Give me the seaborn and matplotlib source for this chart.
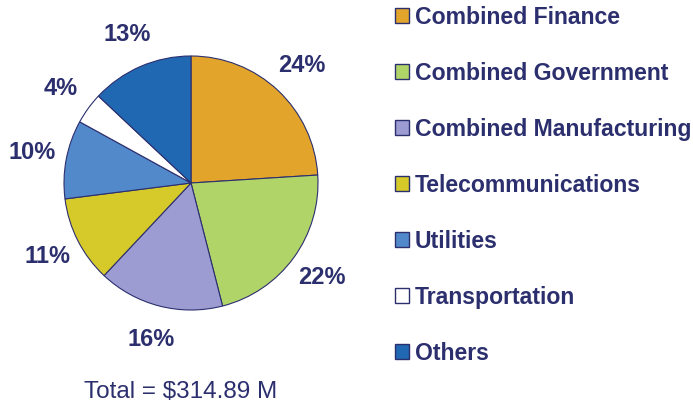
import matplotlib
matplotlib.use("Agg")
import matplotlib.pyplot as plt
import seaborn as sns

categories = ["Combined Finance", "Combined Government", "Combined Manufacturing",
              "Telecommunications", "Utilities", "Transportation", "Others"]
shares = [24, 22, 16, 11, 10, 4, 13]
colors = ["#E2A42A", "#B0D468", "#9C9CD2", "#D6CA2A", "#5189CA", "#FFFFFF", "#2068B2"]
total_label = "Total = $314.89 M"

sns.set_theme(style="white")
plt.rcParams["font.family"] = ["Liberation Sans", "DejaVu Sans"]

navy = "#2C2F6E"
fig = plt.figure(figsize=(6.93, 4.08), dpi=100)
ax = fig.add_axes([64/693, 98/408, 254/693, 254/408])

wedges, texts, autotexts = ax.pie(
    shares, colors=sns.color_palette(colors), startangle=90, counterclock=False,
    autopct=lambda p: f"{p:.0f}%", pctdistance=1.27,
    wedgeprops=dict(edgecolor=navy, linewidth=0.8),
    textprops=dict(color=navy, fontsize=17, fontweight="bold"),
)
ax.set_aspect("equal")
ax.set_xlim(-1, 1)
ax.set_ylim(-1, 1)

leg = fig.legend(wedges, categories, loc="upper left",
                 bbox_to_anchor=(395/693, 1 - 6/408), frameon=False,
                 fontsize=16.6, handlelength=0.62, handleheight=0.62,
                 handletextpad=0.25, labelspacing=1.43, borderpad=0,
                 borderaxespad=0)
for t in leg.get_texts():
    t.set_color(navy)
    t.set_fontweight("bold")
for h in leg.legend_handles:
    h.set_edgecolor(navy)
    h.set_linewidth(1.0)

fig.text(181/693, 1 - 392/408, total_label, ha="center", va="center",
         color=navy, fontsize=17.5)

fig.savefig("out.png", dpi=100)
